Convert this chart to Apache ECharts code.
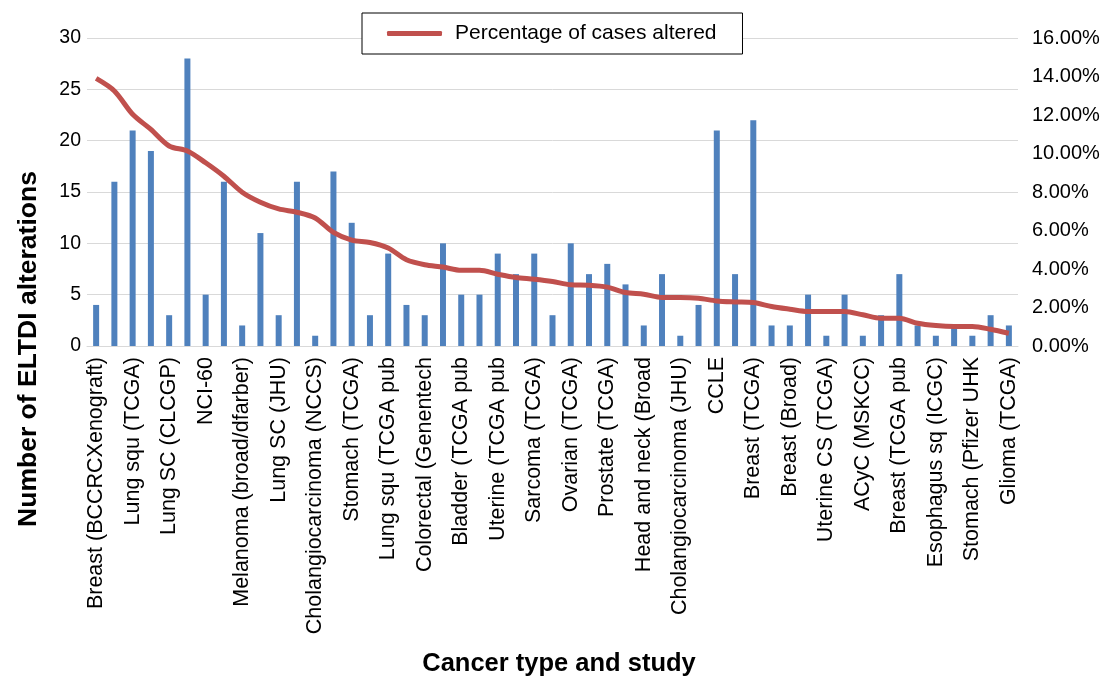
<!DOCTYPE html>
<html>
<head>
<meta charset="utf-8">
<script src="https://cdn.jsdelivr.net/npm/echarts@6/dist/echarts.min.js"></script>
<style>
html,body{margin:0;padding:0;background:#fff;}
#chart{width:1104px;height:679px;}
</style>
</head>
<body>
<div id="chart"></div>
<script>
const categories = [
  "Breast (BCCRCXenograft)", "", "Lung squ (TCGA)", "", "Lung SC (CLCGP)", "", "NCI-60", "",
  "Melanoma (broad/dfarber)", "", "Lung SC (JHU)", "", "Cholangiocarcinoma (NCCS)", "",
  "Stomach (TCGA)", "", "Lung squ (TCGA pub", "", "Colorectal (Genentech", "",
  "Bladder (TCGA pub", "", "Uterine (TCGA pub", "", "Sarcoma (TCGA)", "", "Ovarian (TCGA)", "",
  "Prostate (TCGA)", "", "Head and neck (Broad", "", "Cholangiocarcinoma (JHU)", "", "CCLE", "",
  "Breast (TCGA)", "", "Breast (Broad)", "", "Uterine CS (TCGA)", "", "ACyC (MSKCC)", "",
  "Breast (TCGA pub", "", "Esophagus sq (ICGC)", "", "Stomach (Pfizer UHK", "", "Glioma (TCGA)"
];
const alterations = [4,16,21,19,3,28,5,16,2,11,3,16,1,17,12,3,9,4,3,10,5,5,9,7,9,3,10,7,8,6,2,7,1,4,21,7,22,2,2,5,1,5,1,3,7,2,1,2,1,3,2];
const percentAltered = [13.9,13.25,12.04,11.25,10.39,10.13,9.52,8.82,7.99,7.47,7.12,6.95,6.65,5.9,5.5,5.38,5.09,4.48,4.22,4.1,3.93,3.93,3.73,3.56,3.47,3.35,3.18,3.16,3.06,2.78,2.69,2.52,2.52,2.48,2.34,2.29,2.26,2.05,1.91,1.79,1.79,1.79,1.62,1.44,1.44,1.18,1.06,1.01,1.01,0.87,0.66];
const leftTicks = {min: 0, max: 30, interval: 5};
const rightTicks = {min: 0, max: 16, interval: 2};
const lineName = "Percentage of cases altered";

const FONT = "'Liberation Sans', Arial, sans-serif";
const chart = echarts.init(document.getElementById('chart'));
chart.setOption({
  animation: false,
  backgroundColor: '#fff',
  grid: {left: 87, right: 86, top: 38, bottom: 333, containLabel: false},
  legend: {
    data: [lineName],
    left: 362, top: 13,
    backgroundColor: '#fff',
    borderColor: '#000', borderWidth: 1,
    padding: [10, 26, 10, 25],
    itemWidth: 55, itemHeight: 5,
    icon: 'roundRect',
    textStyle: {fontFamily: FONT, fontSize: 21, color: '#000', padding: [0, 0, 0, 8]}
  },
  xAxis: {
    type: 'category',
    data: categories,
    axisLine: {show: true, lineStyle: {color: '#d9d9d9', width: 1}},
    axisTick: {show: false},
    axisLabel: {
      interval: 1, rotate: 90, margin: 11,
      fontFamily: FONT, fontSize: 21.5, color: '#000'
    }
  },
  yAxis: [
    {
      type: 'value', min: leftTicks.min, max: leftTicks.max, interval: leftTicks.interval,
      axisLine: {show: false}, axisTick: {show: false},
      splitLine: {lineStyle: {color: '#d9d9d9', width: 1}},
      axisLabel: {fontFamily: FONT, fontSize: 19.5, color: '#000', margin: 6}
    },
    {
      type: 'value', min: rightTicks.min, max: rightTicks.max, interval: rightTicks.interval,
      position: 'right',
      axisLine: {show: false}, axisTick: {show: false},
      splitLine: {show: false},
      axisLabel: {fontFamily: FONT, fontSize: 20, color: '#000', margin: 14,
        formatter: v => v.toFixed(2) + '%'}
    }
  ],
  series: [
    {
      name: 'Number of ELTDI alterations',
      type: 'bar', data: alterations, yAxisIndex: 0,
      barWidth: 6,
      itemStyle: {color: '#4f81bd'}
    },
    {
      name: lineName,
      type: 'line', data: percentAltered, yAxisIndex: 1,
      smooth: 0.3, showSymbol: false, symbol: 'none',
      lineStyle: {color: '#c0504d', width: 5},
      itemStyle: {color: '#c0504d'},
      z: 5
    }
  ],
  graphic: [
    {
      type: 'text', x: 29, y: 349, rotation: Math.PI / 2,
      style: {text: 'Number of ELTDI alterations', fontFamily: FONT, fontSize: 26.5, fontWeight: 'bold',
        fill: '#000', align: 'center', verticalAlign: 'middle'}
    },
    {
      type: 'text', x: 559, y: 664,
      style: {text: 'Cancer type and study', fontFamily: FONT, fontSize: 25.5, fontWeight: 'bold',
        fill: '#000', align: 'center', verticalAlign: 'middle'}
    }
  ]
});
</script>
</body>
</html>
